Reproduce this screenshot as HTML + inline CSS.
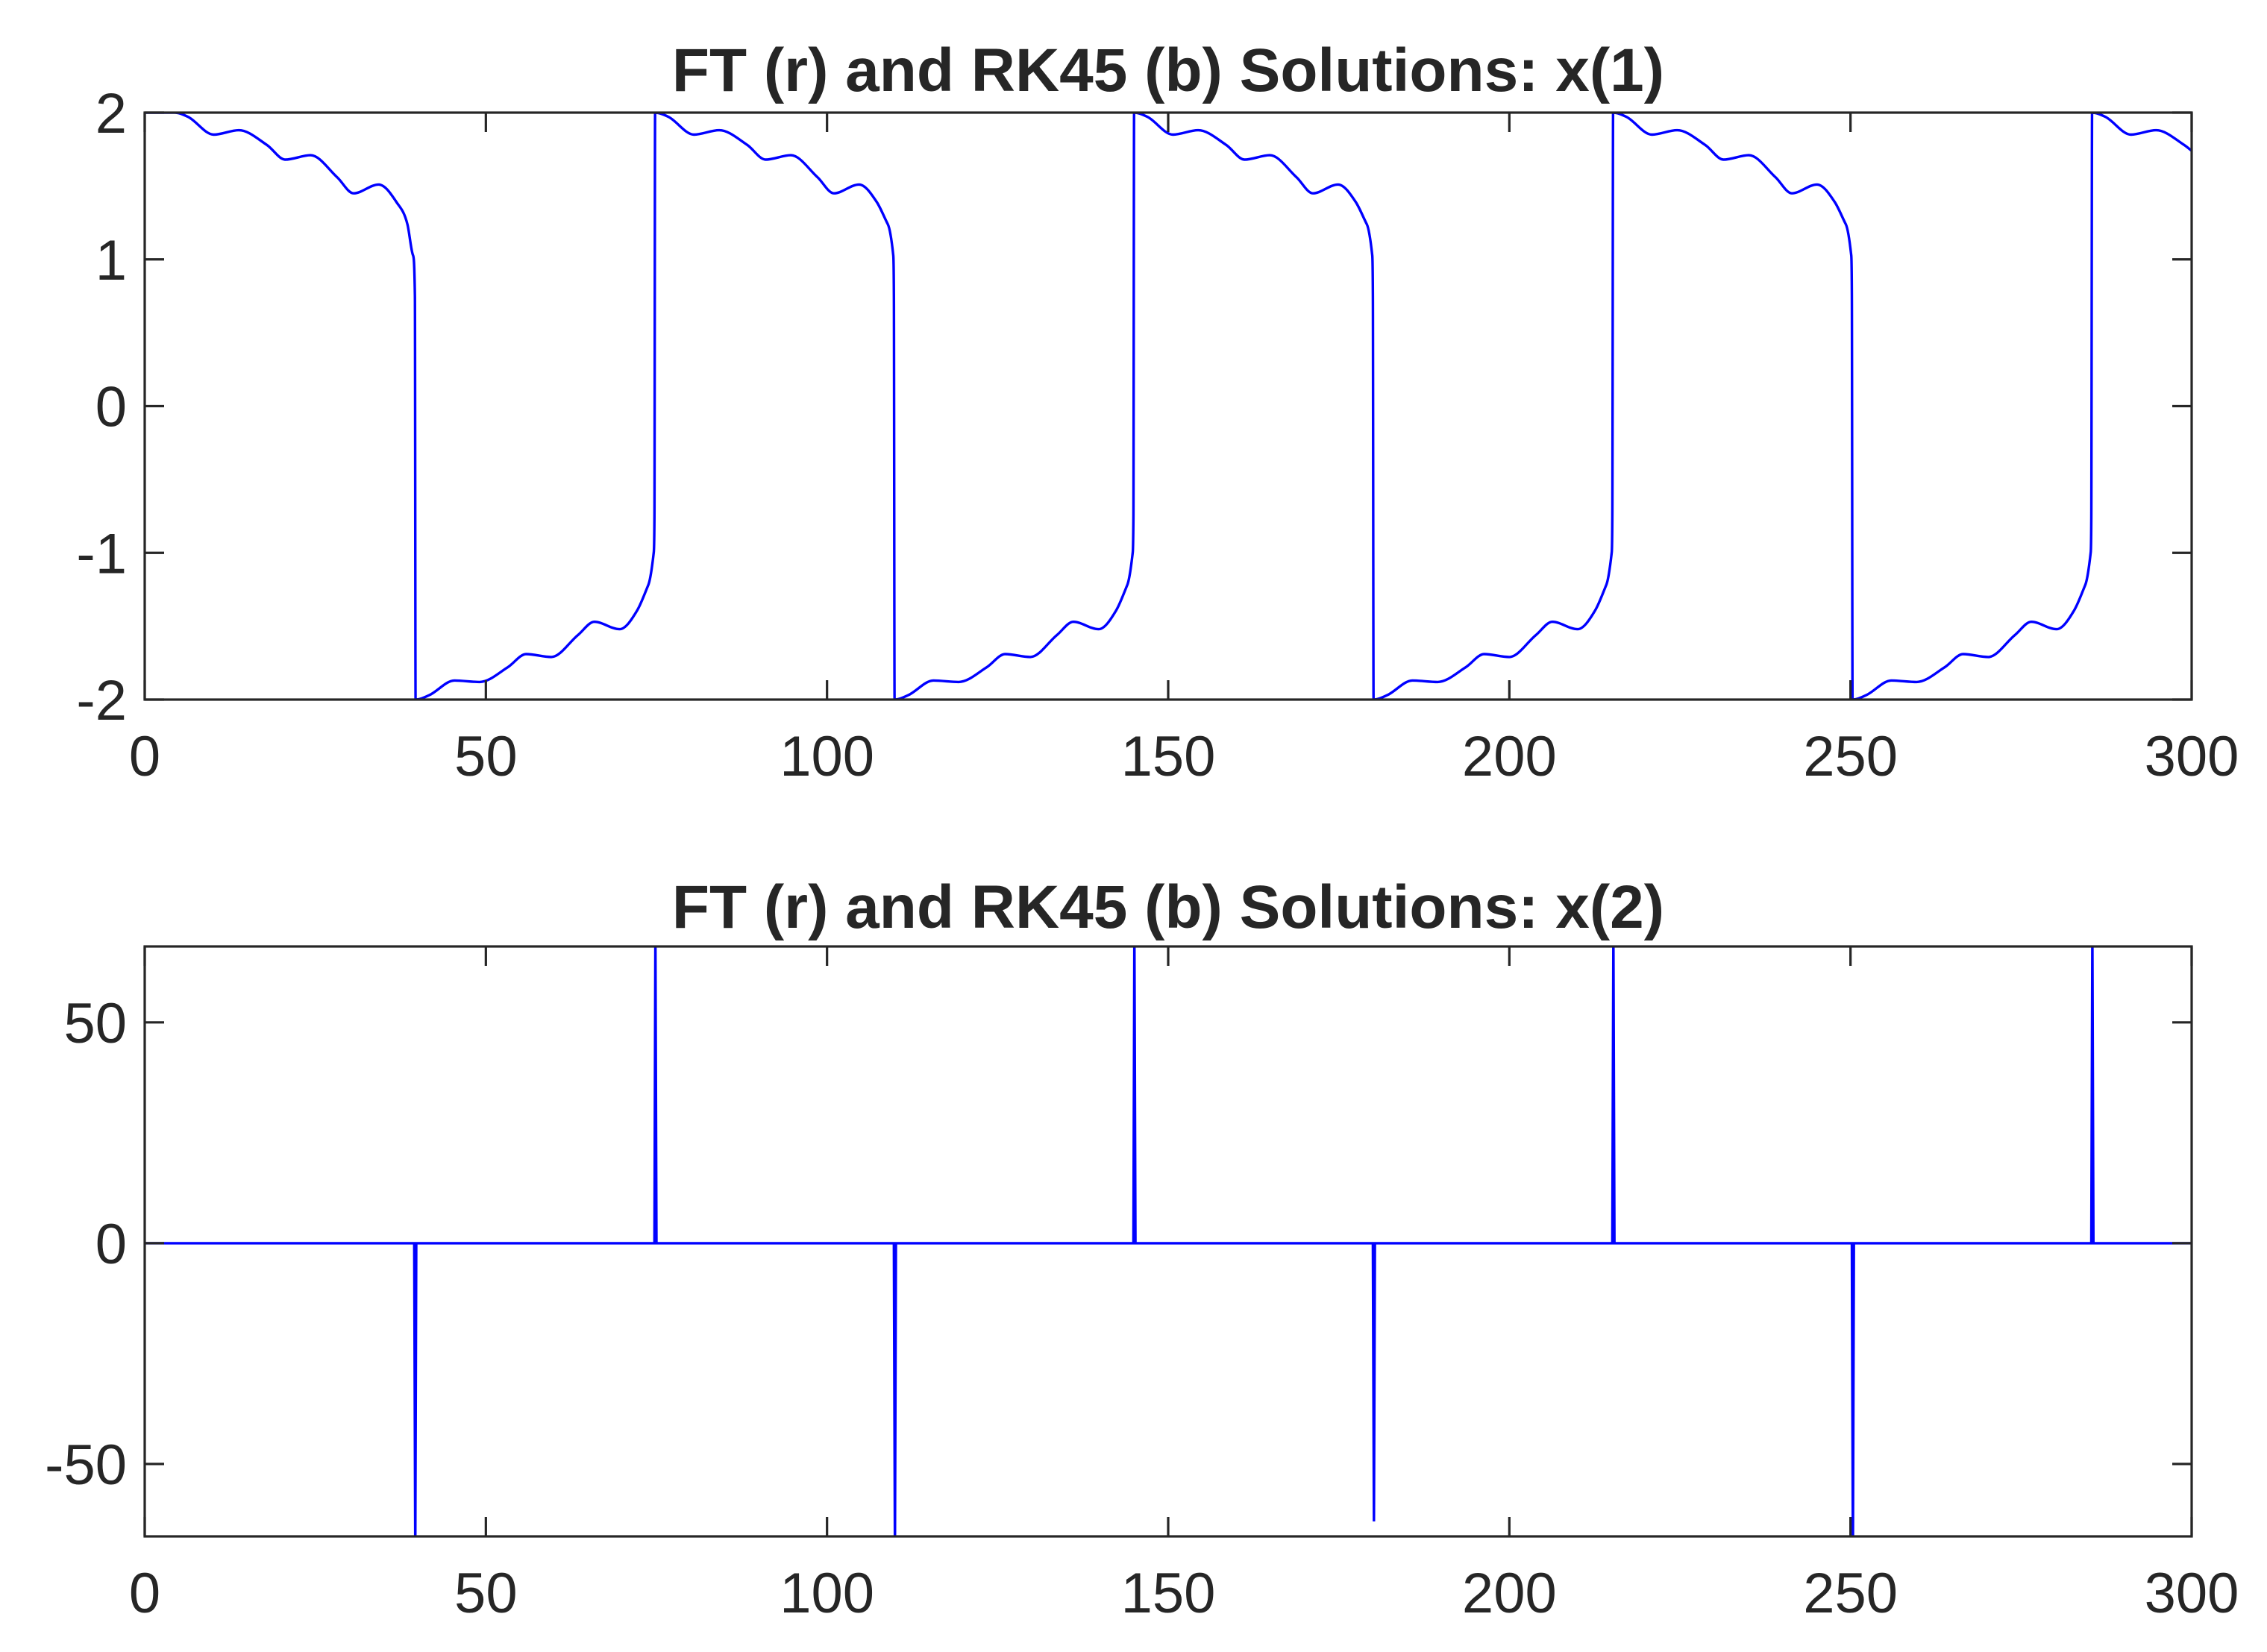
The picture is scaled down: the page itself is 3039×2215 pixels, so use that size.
<!DOCTYPE html>
<html>
<head>
<meta charset="utf-8">
<style>
html,body{margin:0;padding:0;background:#fff;}
svg{display:block;}
text{font-family:"Liberation Sans",Arial,sans-serif;fill:#262626;}
</style>
</head>
<body>
<svg id="fig" width="3039" height="2215" viewBox="0 0 3039 2215" xmlns="http://www.w3.org/2000/svg">
<rect x="0" y="0" width="3039" height="2215" fill="#fff"/>
<g id="ax1"></g>
<g id="ax2"></g>
</svg>
<script>
// ---- data ----
const xTicks = [0, 50, 100, 150, 200, 250, 300];
const x1Ticks = [-2, -1, 0, 1, 2];
const x2Ticks = [-50, 0, 50];
const title1 = "FT (r) and RK45 (b) Solutions: x(1)";
const title2 = "FT (r) and RK45 (b) Solutions: x(2)";

const t1 = [0,2,4.4,6.4,10.1,13.8,17.9,20.6,24.3,28.2,30.6,34.3,36.9,38.5,39.3,39.6,
39.7,41.7,45.4,49.1,53.2,55.9,59.6,63.5,65.9,69.6,72.2,73.8,74.6,74.7,
74.8,76.8,80.5,84.2,88.3,91.0,94.7,98.6,101.0,104.7,107.3,108.9,109.7,109.8,
109.9,111.9,115.6,119.3,123.4,126.1,129.8,133.7,136.1,139.8,142.4,144.0,144.8,144.9,
145.0,147.0,150.7,154.4,158.5,161.2,164.9,168.8,171.2,174.9,177.5,179.1,179.9,180.0,
180.1,182.1,185.8,189.5,193.6,196.3,200.0,203.9,206.3,210.0,212.6,214.2,215.0,215.1,
215.2,217.2,220.9,224.6,228.7,231.4,235.1,239.0,241.4,245.1,247.7,249.3,250.1,250.2,
250.3,252.3,256.0,259.7,263.8,266.5,270.2,274.1,276.5,280.2,282.8,284.4,285.2,285.3,
285.4,287.4,291.1,294.8,298.9,300];
const x1 = [2.0,2.0,2.0,1.97,1.85,1.88,1.78,1.68,1.71,1.56,1.45,1.51,1.39,1.24,1.03,0.75,
-2.0,-1.97,-1.87,-1.88,-1.78,-1.69,-1.71,-1.56,-1.47,-1.52,-1.39,-1.22,-1.0,-0.75,
2.0,1.97,1.85,1.88,1.78,1.68,1.71,1.56,1.45,1.51,1.39,1.24,1.03,0.75,
-2.0,-1.97,-1.87,-1.88,-1.78,-1.69,-1.71,-1.56,-1.47,-1.52,-1.39,-1.22,-1.0,-0.75,
2.0,1.97,1.85,1.88,1.78,1.68,1.71,1.56,1.45,1.51,1.39,1.24,1.03,0.75,
-2.0,-1.97,-1.87,-1.88,-1.78,-1.69,-1.71,-1.56,-1.47,-1.52,-1.39,-1.22,-1.0,-0.75,
2.0,1.97,1.85,1.88,1.78,1.68,1.71,1.56,1.45,1.51,1.39,1.24,1.03,0.75,
-2.0,-1.97,-1.87,-1.88,-1.78,-1.69,-1.71,-1.56,-1.47,-1.52,-1.39,-1.22,-1.0,-0.75,
2.0,1.97,1.85,1.88,1.78,1.74];

const t2 = [0,39.5,39.65,39.8,74.7,74.85,75.0,109.8,109.95,110.1,144.9,145.05,145.2,180.0,180.15,180.3,215.1,215.25,215.4,250.2,250.35,250.5,285.3,285.45,285.6,300];
const x2 = [0,0,-70,0,0,70,0,0,-70,0,0,70,0,0,-63,0,0,70,0,0,-70,0,0,70,0,0];

// ---- layout ----
const NS = "http://www.w3.org/2000/svg";
const L = 194, R = 2938;
const axes = [
  {g:'ax1', top:151, bot:938, ymin:-2, ymax:2, ticks:x1Ticks, title:title1, tY:122, t:t1, v:x1, smooth:true},
  {g:'ax2', top:1269, bot:2060, ymin:-66.4, ymax:67.2, ticks:x2Ticks, title:title2, tY:1244, t:t2, v:x2, smooth:false}
];
function mk(tag, attrs, parent){
  const e = document.createElementNS(NS, tag);
  for (const k in attrs) e.setAttribute(k, attrs[k]);
  parent.appendChild(e);
  return e;
}
function xs(t){ return L + (t - 0) / 300 * (R - L); }

axes.forEach((a, ai) => {
  const g = document.getElementById(a.g);
  const ys = v => a.bot - (v - a.ymin) / (a.ymax - a.ymin) * (a.bot - a.top);
  const clipId = 'clip' + ai;
  const cp = mk('clipPath', {id: clipId}, g);
  mk('rect', {x: L, y: a.top, width: R - L, height: a.bot - a.top}, cp);

  let d = '';
  const P = a.t.map((t, i) => [xs(t), ys(a.v[i])]);
  if (a.smooth) {
    const n = P.length, m = new Array(n), dl = [];
    for (let i = 0; i < n - 1; i++) dl.push((P[i+1][1] - P[i][1]) / (P[i+1][0] - P[i][0]));
    m[0] = dl[0]; m[n-1] = dl[n-2];
    for (let i = 1; i < n - 1; i++) m[i] = (dl[i-1] * dl[i] <= 0) ? 0 : (dl[i-1] + dl[i]) / 2;
    for (let i = 0; i < n - 1; i++) {
      if (dl[i] === 0) { m[i] = 0; m[i+1] = 0; continue; }
      const al = m[i] / dl[i], be = m[i+1] / dl[i], s = al*al + be*be;
      if (s > 9) { const tt = 3 / Math.sqrt(s); m[i] = tt*al*dl[i]; m[i+1] = tt*be*dl[i]; }
    }
    d = 'M' + P[0][0].toFixed(1) + ',' + P[0][1].toFixed(1);
    for (let i = 0; i < n - 1; i++) {
      const h = (P[i+1][0] - P[i][0]) / 3;
      d += ' C' + (P[i][0] + h).toFixed(1) + ',' + (P[i][1] + m[i]*h).toFixed(1) + ' ' +
           (P[i+1][0] - h).toFixed(1) + ',' + (P[i+1][1] - m[i+1]*h).toFixed(1) + ' ' +
           P[i+1][0].toFixed(1) + ',' + P[i+1][1].toFixed(1);
    }
  } else {
    d = 'M' + P.map(p => p[0].toFixed(1) + ',' + p[1].toFixed(1)).join(' L');
  }
  const line = mk('path', {d: d, fill: 'none', stroke: '#0000ff', 'stroke-width': 3.4, 'clip-path': 'url(#' + clipId + ')'}, g);
  
  

  const box = mk('rect', {x: L, y: a.top, width: R - L, height: a.bot - a.top, fill: 'none', stroke: '#262626', 'stroke-width': 3.2}, g);
  
  

  xTicks.forEach(tv => {
    const x = xs(tv);
    const tk = mk('path', {d: `M${x},${a.bot} v-26 M${x},${a.top} v26`, stroke: '#262626', 'stroke-width': 3.2}, g);
    
    
    const lb = mk('text', {x: x, y: a.bot + 102, 'text-anchor': 'middle', 'font-size': 76}, g);
    lb.textContent = tv;
    
    
  });
  a.ticks.forEach(tv => {
    const y = ys(tv);
    const tk = mk('path', {d: `M${L},${y} h26 M${R},${y} h-26`, stroke: '#262626', 'stroke-width': 3.2}, g);
    
    
    const lb = mk('text', {x: L - 24, y: y + 27, 'text-anchor': 'end', 'font-size': 76}, g);
    lb.textContent = tv;
    
    
  });
  const tt = mk('text', {x: (L + R) / 2, y: a.tY, 'text-anchor': 'middle', 'font-size': 82, 'font-weight': 'bold', fill: '#000'}, g);
  tt.textContent = a.title;
  
  
});
</script>
</body>
</html>
